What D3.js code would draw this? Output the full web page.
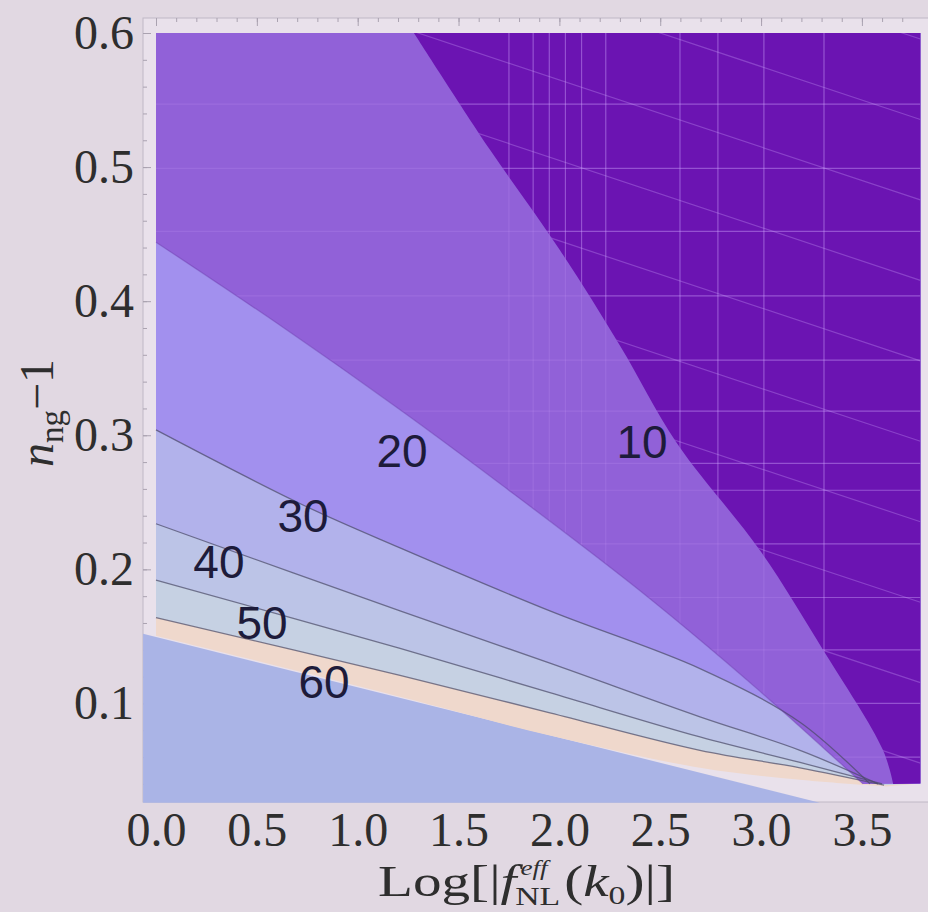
<!DOCTYPE html>
<html>
<head>
<meta charset="utf-8">
<script src="https://cdn.jsdelivr.net/npm/d3@7"></script>
<style>
  body { margin: 0; background: #e1d8e2; }
  svg { display: block; }
</style>
</head>
<body>
<div id="chart"></div>
<script>
// contour levels and where their labels sit
var levels = [10, 20, 30, 40, 50, 60];
var labelX = [2.41, 1.22, 0.729, 0.312, 0.526, 0.833];
var labelY = [0.2955, 0.2888, 0.2403, 0.206, 0.1604, 0.1164];

var xTicks = [0, 0.5, 1, 1.5, 2, 2.5, 3, 3.5];
var yTicks = [0.1, 0.2, 0.3, 0.4, 0.5, 0.6];

// contour lines: [Log|fNL|, n_ng - 1]
var line10 = [[1.279, 0.600], [1.656, 0.513], [2.003, 0.438], [2.300, 0.367], [2.583, 0.294],
              [2.995, 0.214], [3.307, 0.140], [3.605, 0.065], [3.655, 0.040]];
var line20 = [[0, 0.444], [0.615, 0.382], [1.210, 0.319], [1.705, 0.264], [2.400, 0.184],
              [2.995, 0.109], [3.505, 0.040]];
var line30 = [[0, 0.304], [0.729, 0.248], [1.210, 0.216], [1.953, 0.169], [2.697, 0.126],
              [3.193, 0.086], [3.540, 0.040]];
var line40 = [[0, 0.234], [1.210, 0.169], [1.953, 0.130], [2.697, 0.090], [3.193, 0.065], [3.580, 0.040]];
var line50 = [[0, 0.192], [1.210, 0.141], [1.953, 0.108], [2.697, 0.075], [3.193, 0.056], [3.600, 0.040]];
var line60 = [[0, 0.164], [1.210, 0.121], [1.953, 0.093], [2.697, 0.065], [3.193, 0.052], [3.610, 0.039]];
// lower edge of the 60 band, and top of the flat region below it
var edge60 = [[0, 0.1505], [1.210, 0.105], [1.953, 0.076], [2.697, 0.052], [3.193, 0.043], [3.620, 0.038]];
var blueEdge = [[-0.064, 0.152], [3.292, 0.026]];

// faint mesh seen in the upper right
var meshY = [0.547, 0.499, 0.452, 0.404, 0.356, 0.318, 0.279, 0.259, 0.219, 0.179, 0.140, 0.100, 0.060];
var meshX = [1.75, 1.87, 1.95, 2.03, 2.11, 2.23, 2.598, 2.786, 3.014, 3.312];
var meshDiag = [0.06, 0.12, 0.18, 0.24, 0.30, 0.36, 0.42, 0.48, 0.54, 0.60, 0.66];

var xMax = 3.79, yTop = 0.6, yFloor = 0.0403;

var svgWidth = 928;
var svgHeight = 912;
var frame = { left: 143, top: 18, right: 934, bottom: 802 };

var svg = d3.select("#chart")
  .append("svg")
  .attr("width", svgWidth)
  .attr("height", svgHeight);

svg.append("rect")
  .attr("width", svgWidth)
  .attr("height", svgHeight)
  .attr("fill", "#e1d8e2");

var x = d3.scaleLinear().domain([0, xMax]).range([156, 920.4]);
var y = d3.scaleLinear().domain([0.025, 0.6]).range([804, 33]);

// frame box
svg.append("rect")
  .attr("x", frame.left)
  .attr("y", frame.top)
  .attr("width", frame.right - frame.left)
  .attr("height", frame.bottom - frame.top)
  .attr("fill", "#e9e1eb")
  .attr("stroke", "#c0b8c5")
  .attr("stroke-width", 1);

// inward frame ticks, top and left
var minorX = d3.range(0, 38).map(i => i / 10);
var minorY = d3.range(2, 31).map(i => i / 50);

function faintTicks(g) {
  g.select(".domain").remove();
  g.selectAll("line").attr("stroke", "#aaa2b0").attr("stroke-width", 1);
}
svg.append("g").attr("transform", `translate(0, ${frame.top})`)
  .call(d3.axisBottom(x).tickValues(minorX).tickSize(4).tickFormat(""))
  .call(faintTicks);
svg.append("g").attr("transform", `translate(0, ${frame.top})`)
  .call(d3.axisBottom(x).tickValues(xTicks).tickSize(8).tickFormat(""))
  .call(faintTicks);
svg.append("g").attr("transform", `translate(${frame.left}, 0)`)
  .call(d3.axisRight(y).tickValues(minorY).tickSize(4).tickFormat(""))
  .call(faintTicks);
svg.append("g").attr("transform", `translate(${frame.left}, 0)`)
  .call(d3.axisRight(y).tickValues(yTicks).tickSize(8).tickFormat(""))
  .call(faintTicks);

var lineGen = d3.line().x(d => x(d[0])).y(d => y(d[1]));
var curveGen = d3.line().x(d => x(d[0])).y(d => y(d[1])).curve(d3.curveCatmullRom.alpha(0.5));

// region above a contour: the smooth contour, then straight edges round the top right
function abovePath(pts) {
  return curveGen(pts) +
    `L${x(xMax)},${y(yFloor)}L${x(xMax)},${y(yTop)}L${x(pts[0][0])},${y(yTop)}Z`;
}

// flat region at the bottom
svg.append("path")
  .attr("d", lineGen(blueEdge.concat([[blueEdge[0][0], blueEdge[1][1]]])) + "Z")
  .attr("fill", "#aab4e6");

// bands, drawn from the lowest level up
var bandEdges = [edge60, line60, line50, line40, line30, line20, line10];
var bandColors = ["#efd8cc", "#c6d1e3", "#bcc4e7", "#b2b2eb", "#a290ee", "#9161d8", "#6b14b2"];

svg.selectAll("path.band")
  .data(bandEdges)
  .enter()
  .append("path")
  .attr("class", "band")
  .attr("d", d => abovePath(d))
  .attr("fill", (d, i) => bandColors[i]);

// mesh lines, clipped to the two upper bands
svg.append("clipPath").attr("id", "upper")
  .append("path").attr("d", abovePath(line20));
svg.append("clipPath").attr("id", "dark")
  .append("path").attr("d", abovePath(line10));

function drawMesh(clip, opacity) {
  var g = svg.append("g")
    .attr("clip-path", `url(#${clip})`)
    .attr("stroke", "#d2a8ff")
    .attr("stroke-opacity", opacity)
    .attr("stroke-width", 1.2);
  g.selectAll("line.h").data(meshY).enter().append("line")
    .attr("x1", x(0)).attr("x2", x(xMax))
    .attr("y1", d => y(d)).attr("y2", d => y(d));
  g.selectAll("line.v").data(meshX).enter().append("line")
    .attr("x1", d => x(d)).attr("x2", d => x(d))
    .attr("y1", y(yFloor)).attr("y2", y(yTop));
  return g;
}
drawMesh("upper", 0.16);
var darkMesh = drawMesh("dark", 0.3);
darkMesh.selectAll("line.d").data(meshDiag).enter().append("line")
  .attr("x1", x(1.2)).attr("x2", x(xMax))
  .attr("y1", d => y(d + 0.05 * 1.3)).attr("y2", d => y(d - 0.05 * (xMax - 2.5)));

// contour lines
var strokeLines = [line30, line40, line50, line60];
svg.selectAll("path.contour")
  .data(strokeLines)
  .enter()
  .append("path")
  .attr("class", "contour")
  .attr("d", d => curveGen(d))
  .attr("fill", "none")
  .attr("stroke", "#4a4a66")
  .attr("stroke-opacity", 0.7)
  .attr("stroke-width", 1.3);
svg.append("path")
  .attr("d", curveGen(line20))
  .attr("fill", "none")
  .attr("stroke", "#6a3aa8")
  .attr("stroke-opacity", 0.4)
  .attr("stroke-width", 1.3);

// contour labels
svg.selectAll("text.clabel")
  .data(levels)
  .enter()
  .append("text")
  .attr("class", "clabel")
  .attr("x", (d, i) => x(labelX[i]))
  .attr("y", (d, i) => y(labelY[i]))
  .attr("dy", "0.36em")
  .attr("text-anchor", "middle")
  .attr("font-family", "Liberation Sans, Arial, sans-serif")
  .attr("font-size", 46)
  .attr("fill", "#1d1b3a")
  .text(d => d);

// tick labels
function tickText(g) {
  g.select(".domain").remove();
  g.selectAll("text")
    .attr("font-family", "Liberation Serif, Times New Roman, serif")
    .attr("font-size", 48)
    .attr("fill", "#2e2e2e");
}
svg.append("g")
  .attr("transform", `translate(0, ${frame.bottom})`)
  .call(d3.axisBottom(x).tickValues(xTicks).tickSize(0).tickPadding(10).tickFormat(d3.format(".1f")))
  .call(tickText);
svg.append("g")
  .attr("transform", `translate(${frame.left}, 0)`)
  .call(d3.axisLeft(y).tickValues(yTicks).tickSize(0).tickPadding(9).tickFormat(d3.format(".1f")))
  .call(tickText);

// x axis title: Log[|f^eff_NL(k0)|]
var serif = "Liberation Serif, Times New Roman, serif";
var xt = svg.append("g")
  .attr("transform", "translate(378, 896) scale(1.3, 1)")
  .attr("font-family", serif)
  .attr("fill", "#2e2e2e");
var t1 = xt.append("text").attr("font-size", 44);
t1.append("tspan").text("Log[|");
t1.append("tspan").attr("font-style", "italic").text("f");
var w1 = t1.node().getComputedTextLength();
var sup = xt.append("text").attr("x", w1 + 3).attr("y", -21)
  .attr("font-size", 21).attr("font-style", "italic").text("eff");
var sub = xt.append("text").attr("x", w1 - 1).attr("y", 9)
  .attr("font-size", 26).text("NL");
var w2 = Math.max(w1 + 3 + sup.node().getComputedTextLength(), w1 - 1 + sub.node().getComputedTextLength());
var t2 = xt.append("text").attr("x", w2 + 3).attr("font-size", 44);
t2.append("tspan").text("(");
t2.append("tspan").attr("font-style", "italic").text("k");
t2.append("tspan").attr("font-size", 26).attr("dy", 8).text("0");
t2.append("tspan").attr("dy", -8).text(")|]");

// y axis title: n_ng - 1
var yt = svg.append("text")
  .attr("transform", "translate(53, 413) rotate(-90)")
  .attr("text-anchor", "middle")
  .attr("font-family", serif)
  .attr("font-size", 48)
  .attr("fill", "#2e2e2e");
yt.append("tspan").attr("font-style", "italic").text("n");
yt.append("tspan").attr("font-size", 33).attr("dy", 10).text("ng");
yt.append("tspan").attr("dy", -10).text("\u22121");
</script>
</body>
</html>
